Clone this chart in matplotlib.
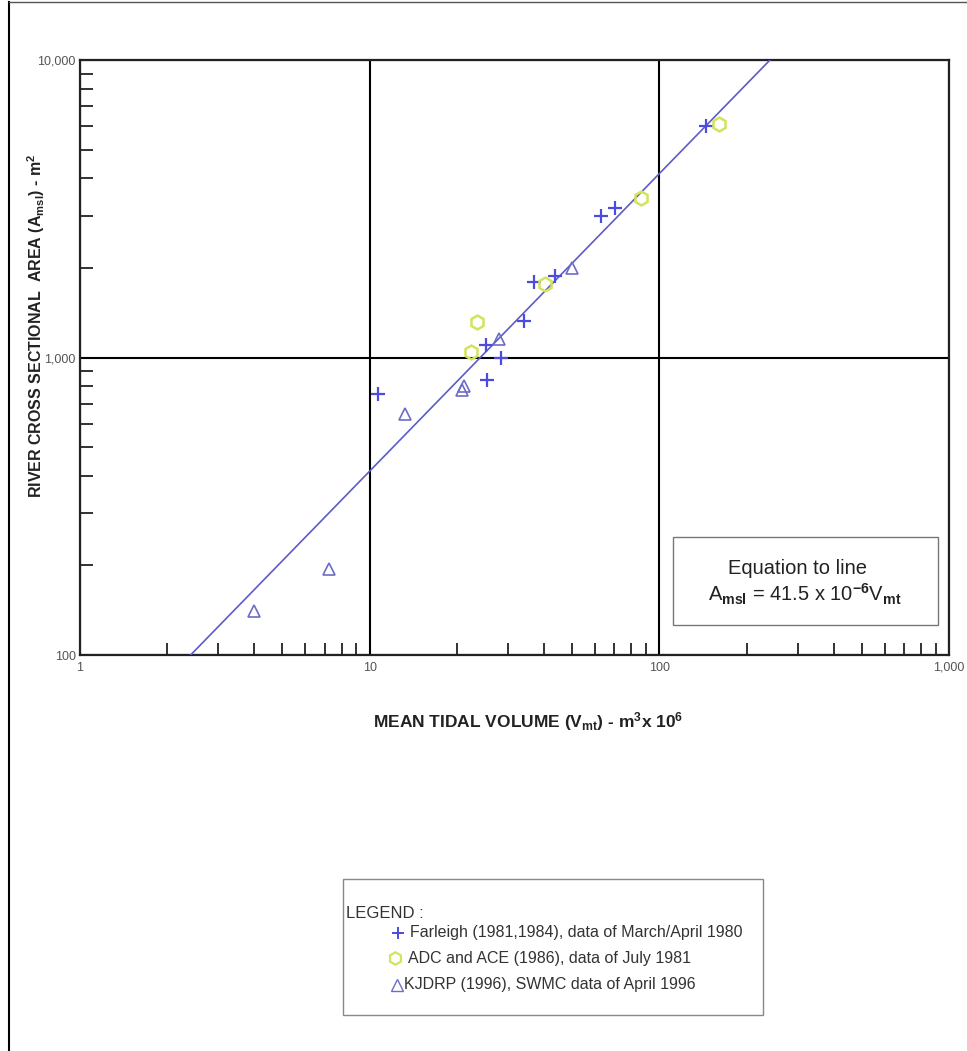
import numpy as np
import matplotlib
matplotlib.use("Agg")
import matplotlib.pyplot as plt
from matplotlib.lines import Line2D
from matplotlib.patches import Rectangle
from matplotlib.ticker import LogLocator, NullFormatter, FixedLocator, FixedFormatter

plt.rcParams['font.family'] = ['Liberation Sans', 'DejaVu Sans']
plt.rcParams['mathtext.fontset'] = 'custom'
plt.rcParams['mathtext.rm'] = 'Liberation Sans'
plt.rcParams['mathtext.it'] = 'Liberation Sans'
plt.rcParams['mathtext.bf'] = 'Liberation Sans:bold'
plt.rcParams['mathtext.default'] = 'regular'

# ---- data ----
farleigh_x = [10.7, 25.5, 28.4, 25.2, 34.2, 36.9, 43.7, 62.9, 70.4, 145]
farleigh_y = [753, 838, 1000, 1100, 1330, 1790, 1880, 2990, 3180, 6000]
adc_x = [22.4, 23.4, 40.3, 86.7, 161]
adc_y = [1040, 1315, 1760, 3430, 6100]
kjdrp_x = [3.99, 7.23, 13.2, 20.8, 21.2, 28.0, 50.1]
kjdrp_y = [141, 195, 647, 780, 800, 1150, 2000]
fit_coef = 41.5   # A = 41.5e-6 * V (V in m3), i.e. 41.5 * V (V in 10^6 m3)

x_ticks = [1, 10, 100, 1000]
x_labels = ["1", "10", "100", "1,000"]
y_ticks = [100, 1000, 10000]
y_labels = ["100", "1,000", "10,000"]

legend_labels = ["Farleigh (1981,1984), data of March/April 1980",
                 "ADC and ACE (1986), data of July 1981",
                 "KJDRP (1996), SWMC data of April 1996"]

W, H = 967, 1051
fig = plt.figure(figsize=(W / 100, H / 100), dpi=100)
fig.patch.set_facecolor('white')

def fx(px):
    return px / W

def fy(py):
    return 1 - py / H

L, R, T, B = 80, 949, 60, 655
ax = fig.add_axes([fx(L), fy(B), (R - L) / W, (B - T) / H])
ax.set_xscale('log')
ax.set_yscale('log')
ax.set_xlim(1, 1000)
ax.set_ylim(100, 10000)

col_plus = '#4b4bdc'
col_line = '#5c5cc8'
col_adc = '#d3e35c'
col_tri = '#6c6cc8'

# fit line
fit_y = np.array([100.0, 10000.0])
fit_x = fit_y / fit_coef
ax.plot(fit_x, fit_y, color=col_line, lw=1.2, zorder=3)

ax.plot(farleigh_x, farleigh_y, ls='none', marker='+', ms=10, mew=1.6,
        color=col_plus, zorder=4)
ax.plot(adc_x, adc_y, ls='none', marker='h', ms=10, mew=1.8,
        mfc='none', mec=col_adc, zorder=4)
ax.plot(kjdrp_x, kjdrp_y, ls='none', marker='^', ms=9, mew=1.2,
        mfc='none', mec=col_tri, zorder=4)

# grid and spines
ax.grid(True, which='major', color='black', lw=1.5)
for s in ax.spines.values():
    s.set_linewidth(1.6)
    s.set_color('#222222')

ax.xaxis.set_major_locator(FixedLocator(x_ticks))
ax.xaxis.set_major_formatter(FixedFormatter(x_labels))
ax.yaxis.set_major_locator(FixedLocator(y_ticks))
ax.yaxis.set_major_formatter(FixedFormatter(y_labels))
ax.xaxis.set_minor_locator(LogLocator(base=10, subs=np.arange(2, 10)))
ax.yaxis.set_minor_locator(LogLocator(base=10, subs=np.arange(2, 10)))
ax.xaxis.set_minor_formatter(NullFormatter())
ax.yaxis.set_minor_formatter(NullFormatter())
ax.tick_params(which='major', length=0, labelsize=9, labelcolor='#555555', pad=3)
ax.tick_params(which='minor', direction='in', length=9, width=1.3, color='#222222')
ax.tick_params(axis='x', which='major', pad=5)

# axis labels
fig.text(fx(528), fy(722), "MEAN TIDAL VOLUME (V$_{\\mathbf{mt}}$) - m$^{\\mathbf{3}}$x 10$^{\\mathbf{6}}$",
         ha='center', va='center', fontsize=12.5, fontweight='bold', color='#222222')
fig.text(fx(36), fy(326), "RIVER CROSS SECTIONAL  AREA (A$_{\\mathbf{msl}}$) - m$^{\\mathbf{2}}$",
         ha='center', va='center', rotation=90, fontsize=11.5, fontweight='bold', color='#222222')

# equation box
fig.add_artist(Rectangle((fx(673), fy(625)), (938 - 673) / W, (625 - 537) / H,
                         transform=fig.transFigure, fill=False, ec='#777777', lw=1.0))
fig.text(fx(797), fy(569), "Equation to line", ha='center', va='center',
         fontsize=14.5, color='#222222')
fig.text(fx(805), fy(594), "A$_{\\mathbf{msl}}$ = 41.5 x 10$^{\\mathbf{-6}}$V$_{\\mathbf{mt}}$",
         ha='center', va='center', fontsize=14.5, color='#222222')

# legend box
fig.add_artist(Rectangle((fx(343), fy(1015)), (763 - 343) / W, (1015 - 879) / H,
                         transform=fig.transFigure, fill=False, ec='#888888', lw=1.0))
fig.text(fx(346), fy(914), "LEGEND :", ha='left', va='center', fontsize=12, color='#333333')
marker_styles = [dict(marker='+', ms=9, mew=1.4, color=col_plus),
                 dict(marker='h', ms=9, mew=1.6, mfc='none', mec=col_adc, color=col_adc),
                 dict(marker='^', ms=8, mew=1.0, mfc='none', mec=col_tri, color=col_tri)]
rows_y = [933, 958, 985]
text_x = [410, 408, 404]
mark_x = [398, 395, 397]
for lab, st, yy, tx, mx in zip(legend_labels, marker_styles, rows_y, text_x, mark_x):
    fig.add_artist(Line2D([fx(mx)], [fy(yy)], transform=fig.transFigure, ls='none', **st))
    fig.text(fx(tx), fy(yy), lab, ha='left', va='center', fontsize=11.5, color='#333333')

# page frame lines (scan border)
fig.add_artist(Line2D([fx(9), fx(9)], [0, fy(2)], transform=fig.transFigure,
                      color='black', lw=1.5))
fig.add_artist(Line2D([fx(9), 1], [fy(2), fy(2)], transform=fig.transFigure,
                      color='#555555', lw=1.0))

fig.savefig('out.png', dpi=100, facecolor='white')
